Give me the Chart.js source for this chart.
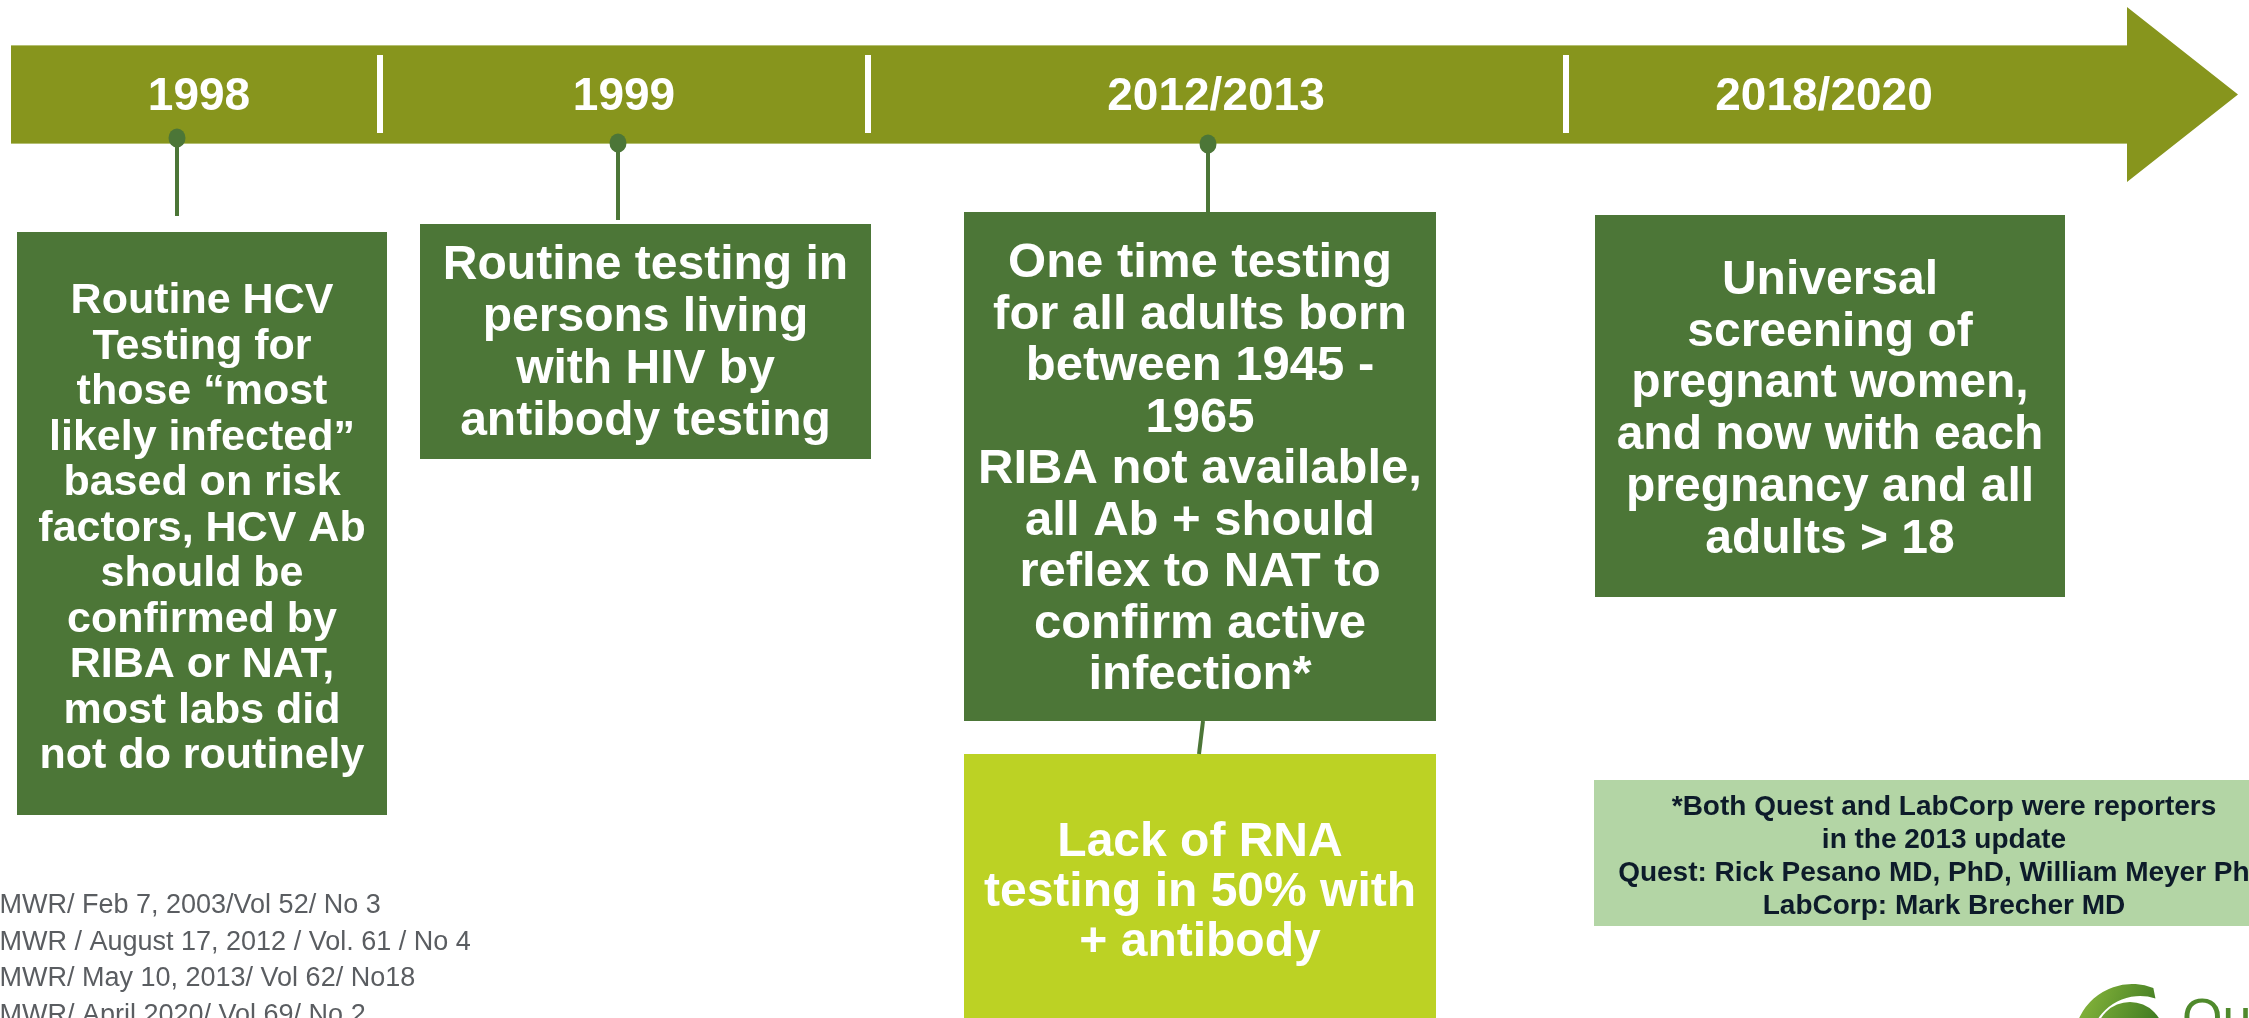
<!DOCTYPE html>
<html>
<head>
<meta charset="utf-8">
<title>HCV testing timeline</title>
<script src="https://cdn.jsdelivr.net/npm/chart.js@4.4.1/dist/chart.umd.min.js"></script>
<style>
  html, body { margin: 0; padding: 0; background: #fff; overflow: hidden; }
  #wrap { width: 2249px; height: 1018px; position: relative; }
</style>
</head>
<body>
<div id="wrap"><canvas id="timeline"></canvas></div>
<script>
// --- content of the timeline ---
const eraLabels = ['1998', '1999', '2012/2013', '2018/2020'];
const eventLines = [
  ['Routine HCV', 'Testing for', 'those \u201cmost', 'likely infected\u201d', 'based on risk', 'factors, HCV Ab',
   'should be', 'confirmed by', 'RIBA or NAT,', 'most labs did', 'not do routinely'],
  ['Routine testing in', 'persons living', 'with HIV by', 'antibody testing'],
  ['One time testing', 'for all adults born', 'between 1945 -', '1965', 'RIBA not available,',
   'all Ab + should', 'reflex to NAT to', 'confirm active', 'infection*'],
  ['Universal', 'screening of', 'pregnant women,', 'and now with each', 'pregnancy and all', 'adults > 18']
];
const outcomeLines = ['Lack of RNA', 'testing in 50% with', '+ antibody'];
const noteLines = [
  '*Both Quest and LabCorp were reporters',
  'in the 2013 update',
  'Quest: Rick Pesano MD, PhD, William Meyer PhD',
  'LabCorp: Mark Brecher MD'
];
const sourceLines = [
  'MMWR/ Feb 7, 2003/Vol 52/ No 3',
  'MMWR / August 17, 2012 / Vol. 61 / No 4',
  'MMWR/ May 10, 2013/ Vol 62/ No18',
  'MMWR/ April 2020/ Vol 69/ No 2'
];
const logoText = 'Quest';

// --- layout (frame units = pixels of a 2249 x 1018 slide) ---
const W = 2249, H = 1018;
const arrow = { x0: 11, x1: 2127, top: 46, bottom: 143, headTop: 7, headBottom: 182, tip: 2238 };
const eraX = [199, 624, 1216, 1824];
const eraBaseline = 110;
const dividerX = [380, 868, 1566];
const dividerY = [55, 133];
const pins = [
  { x: 177, top: 138, bottom: 216 },
  { x: 618, top: 143, bottom: 220 },
  { x: 1208, top: 144, bottom: 212 }
];
const eventBoxes = [
  { x0: 17,   x1: 387,  y0: 232, y1: 815, size: 43, first: 298, step: 45.5 },
  { x0: 420,  x1: 871,  y0: 224, y1: 459, size: 48, first: 262, step: 52 },
  { x0: 964,  x1: 1436, y0: 212, y1: 721, size: 49, first: 260, step: 51.5 },
  { x0: 1595, x1: 2065, y0: 215, y1: 597, size: 48, first: 277, step: 51.8 }
];
const outcomeBox = { x0: 964, x1: 1436, y0: 754, y1: 1030, size: 48, first: 839, step: 50 };
const link = { x0: 1203, y0: 721, x1: 1199, y1: 754 };
const noteBox = { x0: 1594, x1: 2300, y0: 780, y1: 926, cx: 1944, size: 28, first: 805, step: 33 };
const sources = { x: -23, size: 27, first: 904, step: 36.5 };

// colours
const olive = '#87951d';
const oliveEdge = '#b4bf72';
const darkGreen = '#4c7637';
const lime = '#bcd224';
const paleGreen = '#b3d5a5';
const FONT = '"Liberation Sans", Arial, Helvetica, sans-serif';

// oval marker for the pins
const dot = document.createElement('canvas');
dot.width = 20; dot.height = 22;
(function () {
  const c = dot.getContext('2d');
  c.fillStyle = darkGreen;
  c.beginPath();
  c.ellipse(10, 11, 8.5, 9.5, 0, 0, Math.PI * 2);
  c.fill();
})();

function lines(ctx, chart, arr, cx, first, step, size, color, weight) {
  const xs = chart.scales.x, ys = chart.scales.y;
  ctx.fillStyle = color;
  ctx.font = (weight || 'bold') + ' ' + size + 'px ' + FONT;
  ctx.textAlign = 'center';
  ctx.textBaseline = 'alphabetic';
  arr.forEach((t, i) => {
    ctx.fillText(t, xs.getPixelForValue(cx), ys.getPixelForValue(first + i * step) + size * 0.35);
  });
}

function rect(ctx, chart, b, color) {
  const xs = chart.scales.x, ys = chart.scales.y;
  const x0 = xs.getPixelForValue(b.x0), x1 = xs.getPixelForValue(b.x1);
  const y0 = ys.getPixelForValue(b.y0), y1 = ys.getPixelForValue(b.y1);
  ctx.fillStyle = color;
  ctx.fillRect(x0, y0, x1 - x0, y1 - y0);
}

const timelinePlugin = {
  id: 'timeline',
  beforeDatasetsDraw(chart) {
    const ctx = chart.ctx, xs = chart.scales.x, ys = chart.scales.y;
    const X = v => xs.getPixelForValue(v), Y = v => ys.getPixelForValue(v);
    ctx.save();
    // thin light rim along the band
    ctx.fillStyle = oliveEdge;
    ctx.fillRect(X(arrow.x0), Y(arrow.top) - 1, X(arrow.x1) - X(arrow.x0), Y(arrow.bottom) - Y(arrow.top) + 2);
    // arrow band
    ctx.fillStyle = olive;
    ctx.beginPath();
    ctx.moveTo(X(arrow.x0), Y(arrow.top));
    ctx.lineTo(X(arrow.x1), Y(arrow.top));
    ctx.lineTo(X(arrow.x1), Y(arrow.headTop));
    ctx.lineTo(X(arrow.tip), Y((arrow.top + arrow.bottom) / 2));
    ctx.lineTo(X(arrow.x1), Y(arrow.headBottom));
    ctx.lineTo(X(arrow.x1), Y(arrow.bottom));
    ctx.lineTo(X(arrow.x0), Y(arrow.bottom));
    ctx.closePath();
    ctx.fill();
    // dividers
    ctx.strokeStyle = '#ffffff';
    ctx.lineWidth = 6;
    dividerX.forEach(d => {
      ctx.beginPath();
      ctx.moveTo(X(d), Y(dividerY[0]));
      ctx.lineTo(X(d), Y(dividerY[1]));
      ctx.stroke();
    });
    // boxes
    eventBoxes.forEach(b => rect(ctx, chart, b, darkGreen));
    rect(ctx, chart, outcomeBox, lime);
    rect(ctx, chart, noteBox, paleGreen);
    ctx.restore();
  },
  afterDatasetsDraw(chart) {
    const ctx = chart.ctx, xs = chart.scales.x, ys = chart.scales.y;
    const X = v => xs.getPixelForValue(v), Y = v => ys.getPixelForValue(v);
    ctx.save();
    // era labels
    ctx.fillStyle = '#ffffff';
    ctx.font = 'bold 46px ' + FONT;
    ctx.textAlign = 'center';
    ctx.textBaseline = 'alphabetic';
    eraLabels.forEach((t, i) => ctx.fillText(t, X(eraX[i]), Y(eraBaseline)));
    // box texts
    eventLines.forEach((arr, i) => {
      const b = eventBoxes[i];
      lines(ctx, chart, arr, (b.x0 + b.x1) / 2, b.first, b.step, b.size, '#ffffff');
    });
    lines(ctx, chart, outcomeLines, (outcomeBox.x0 + outcomeBox.x1) / 2, outcomeBox.first,
      outcomeBox.step, outcomeBox.size, '#ffffff');
    lines(ctx, chart, noteLines, noteBox.cx, noteBox.first, noteBox.step, noteBox.size, '#0d1b2a');
    // sources
    ctx.fillStyle = '#5a5d61';
    ctx.font = sources.size + 'px ' + FONT;
    ctx.textAlign = 'left';
    sourceLines.forEach((t, i) => {
      ctx.fillText(t, X(sources.x), Y(sources.first + i * sources.step) + sources.size * 0.35);
    });
    // logo (cut off by the bottom edge)
    const g = ctx.createLinearGradient(X(2080), Y(985), X(2160), Y(1018));
    g.addColorStop(0, '#8ab83c');
    g.addColorStop(1, '#3f7a22');
    ctx.fillStyle = g;
    ctx.beginPath();
    ctx.arc(X(2132), Y(1042), 58, Math.PI * 1.02, Math.PI * 1.62);
    ctx.arc(X(2140), Y(1046), 50, Math.PI * 1.6, Math.PI * 1.04, true);
    ctx.closePath();
    ctx.fill();
    ctx.beginPath();
    ctx.arc(X(2130), Y(1036), 34, 0, Math.PI * 2);
    ctx.fill();
    ctx.fillStyle = '#4f8a2c';
    ctx.font = '52px ' + FONT;
    ctx.textAlign = 'left';
    ctx.fillText(logoText, X(2182), Y(1035));
    ctx.restore();
  }
};

const connectors = pins.map(p => [{ x: p.x, y: p.top }, { x: p.x, y: p.bottom }]);
connectors.push([{ x: link.x0, y: link.y0 }, { x: link.x1, y: link.y1 }]);

const datasets = [{
  label: 'milestones',
  data: pins.map(p => ({ x: p.x, y: p.top })),
  pointStyle: dot,
  pointRadius: 9,
  showLine: false
}].concat(connectors.map((c, i) => ({
  label: 'pin ' + i,
  data: c,
  showLine: true,
  borderColor: darkGreen,
  borderWidth: 4,
  pointRadius: 0
})));

new Chart(document.getElementById('timeline'), {
  type: 'scatter',
  data: { datasets: datasets },
  options: {
    responsive: true,
    maintainAspectRatio: false,
    animation: false,
    events: [],
    layout: { padding: 0, autoPadding: false },
    plugins: { legend: { display: false }, tooltip: { enabled: false } },
    scales: {
      x: { type: 'linear', min: 0, max: W, display: false },
      y: { type: 'linear', min: 0, max: H, reverse: true, display: false }
    }
  },
  plugins: [timelinePlugin]
});
</script>
</body>
</html>
